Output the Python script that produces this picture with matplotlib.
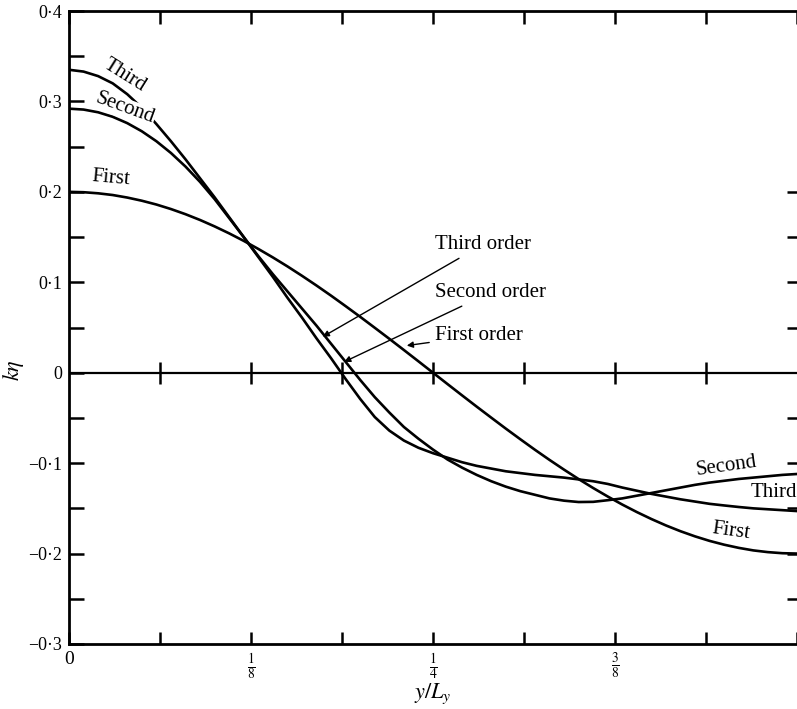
import numpy as np
import matplotlib
matplotlib.use("Agg")
import matplotlib.pyplot as plt

plt.rcParams['font.family'] = ['Liberation Serif', 'DejaVu Serif']
plt.rcParams['mathtext.fontset'] = 'stix'

# ---- data ----
y_over_L = [0.00, 0.01, 0.02, 0.03, 0.04, 0.05, 0.06, 0.07, 0.08, 0.09,
            0.10, 0.11, 0.12, 0.13, 0.14, 0.15, 0.16, 0.17, 0.18, 0.19,
            0.20, 0.21, 0.22, 0.23, 0.24, 0.25, 0.26, 0.27, 0.28, 0.29,
            0.30, 0.31, 0.32, 0.33, 0.34, 0.35, 0.36, 0.37, 0.38, 0.39,
            0.40, 0.41, 0.42, 0.43, 0.44, 0.45, 0.46, 0.47, 0.48, 0.49, 0.50]
first_order = [0.2000, 0.1996, 0.1984, 0.1965, 0.1937, 0.1902, 0.1860, 0.1810, 0.1753, 0.1689,
               0.1618, 0.1541, 0.1458, 0.1369, 0.1275, 0.1176, 0.1072, 0.0964, 0.0852, 0.0736,
               0.0618, 0.0497, 0.0375, 0.0251, 0.0126, 0.0000, -0.0126, -0.0251, -0.0375, -0.0497,
               -0.0618, -0.0736, -0.0852, -0.0964, -0.1072, -0.1176, -0.1275, -0.1369, -0.1458, -0.1541,
               -0.1618, -0.1689, -0.1753, -0.1810, -0.1860, -0.1902, -0.1937, -0.1965, -0.1984, -0.1996, -0.2000]
second_order = [0.292, 0.291, 0.288, 0.283, 0.276, 0.267, 0.256, 0.243, 0.228, 0.211,
                0.192, 0.171, 0.150, 0.129, 0.109, 0.090, 0.071, 0.052, 0.032, 0.012,
                -0.008, -0.027, -0.044, -0.060, -0.073, -0.085, -0.096, -0.105, -0.113, -0.120,
                -0.126, -0.131, -0.135, -0.139, -0.1415, -0.143, -0.1428, -0.141, -0.139, -0.136,
                -0.133, -0.130, -0.127, -0.124, -0.1215, -0.1195, -0.1175, -0.116, -0.1145, -0.113, -0.112]
third_order = [0.335, 0.333, 0.328, 0.320, 0.308, 0.293, 0.275, 0.256, 0.236, 0.215,
               0.194, 0.172, 0.150, 0.128, 0.106, 0.083, 0.061, 0.038, 0.016, -0.007,
               -0.029, -0.049, -0.064, -0.075, -0.083, -0.089, -0.094, -0.099, -0.103, -0.106,
               -0.109, -0.111, -0.113, -0.1145, -0.116, -0.118, -0.120, -0.123, -0.127, -0.1305,
               -0.134, -0.137, -0.140, -0.1425, -0.145, -0.1468, -0.1485, -0.150, -0.151, -0.152, -0.153]

x_ticks = [0, 1/16, 2/16, 3/16, 4/16, 5/16, 6/16, 7/16, 8/16]
x_tick_labels = ['0', '', r'$\frac{1}{8}$', '', r'$\frac{1}{4}$', '', r'$\frac{3}{8}$', '', '']
y_ticks = [-0.3, -0.25, -0.2, -0.15, -0.1, -0.05, 0.0, 0.05, 0.1, 0.15, 0.2, 0.25, 0.3, 0.35, 0.4]
y_tick_labels = ['\u22120\u00b73', '', '\u22120\u00b72', '', '\u22120\u00b71', '', '0', '',
                 '0\u00b71', '', '0\u00b72', '', '0\u00b73', '', '0\u00b74']
right_ticks = [-0.25, -0.2, -0.15, -0.1, -0.05, 0.05, 0.1, 0.15, 0.2]

W, H = 797, 709
fig = plt.figure(figsize=(W / 100, H / 100), dpi=100)
ax = fig.add_axes([69 / W, 65 / H, (797 - 69) / W, (644 - 11) / H])

lw = 1.9
ax.plot(y_over_L, first_order, color='black', lw=lw, zorder=3)
ax.plot(y_over_L, second_order, color='black', lw=lw, zorder=3)
ax.plot(y_over_L, third_order, color='black', lw=lw, zorder=3)

ax.set_xlim(0, 0.5)
ax.set_ylim(-0.3, 0.4)

# zero line with crossing ticks
ax.axhline(0, color='black', lw=1.6)
ax.plot(x_ticks[1:-1], [0] * (len(x_ticks) - 2), ls='none', marker='|', ms=16, mew=1.8, color='black')

for s in ('left', 'top', 'bottom'):
    ax.spines[s].set_linewidth(2.0)
ax.spines['right'].set_visible(False)

ax.set_xticks(x_ticks)
ax.set_xticklabels(x_tick_labels, fontsize=14)
ax.get_xticklabels()[0].set_fontsize(14)
ax.set_yticks(y_ticks)
ax.set_yticklabels(y_tick_labels, fontsize=13)
ax.tick_params(axis='x', direction='in', length=9, width=1.8, top=True, pad=5)
ax.tick_params(axis='y', direction='in', length=11, width=1.8, pad=5)

sec = ax.secondary_yaxis('right')
sec.set_yticks(right_ticks)
sec.set_yticklabels([''] * len(right_ticks))
sec.tick_params(direction='in', length=7, width=1.8)
sec.spines['right'].set_visible(False)

ax.set_xlabel(r'$y/L_y$', fontsize=16)
ax.xaxis.set_label_coords(0.5, -0.06)
fig.text(13 / W, 1 - 370 / H, r'$k\eta$', fontsize=16, rotation=90, ha='center', va='center')

fs = 15
white = dict(facecolor='white', edgecolor='none', pad=0.5)
# curve labels near origin
ax.text(0.0384, 0.329, 'Third', fontsize=fs, rotation=-32, ha='center', va='center', zorder=4)
ax.text(0.0384, 0.292, 'Second', fontsize=fs, rotation=-20, ha='center', va='center', zorder=4, bbox=white)
ax.text(0.0288, 0.2146, 'First', fontsize=fs, rotation=-5, ha='center', va='center', zorder=4)
# curve labels at right end
ax.text(0.4516, -0.103, 'Second', fontsize=fs, rotation=8, ha='center', va='center', zorder=4)
ax.text(0.500, -0.132, 'Third', fontsize=fs, rotation=0, ha='right', va='center', zorder=4)
ax.text(0.455, -0.175, 'First', fontsize=fs, rotation=-8, ha='center', va='center', zorder=4)

arrow = dict(arrowstyle='-|>', color='black', lw=1.0, mutation_scale=9, shrinkA=2, shrinkB=0)
ax.annotate('Third order', xy=(0.1743, 0.0398), xytext=(0.2512, 0.1416), fontsize=fs,
            ha='left', va='center', arrowprops=arrow)
ax.annotate('Second order', xy=(0.189, 0.012), xytext=(0.2512, 0.0885), fontsize=fs,
            ha='left', va='center', arrowprops=arrow)
ax.annotate('First order', xy=(0.232, 0.030), xytext=(0.2512, 0.041), fontsize=fs,
            ha='left', va='center', arrowprops=arrow)

fig.savefig('out.png', dpi=100)
